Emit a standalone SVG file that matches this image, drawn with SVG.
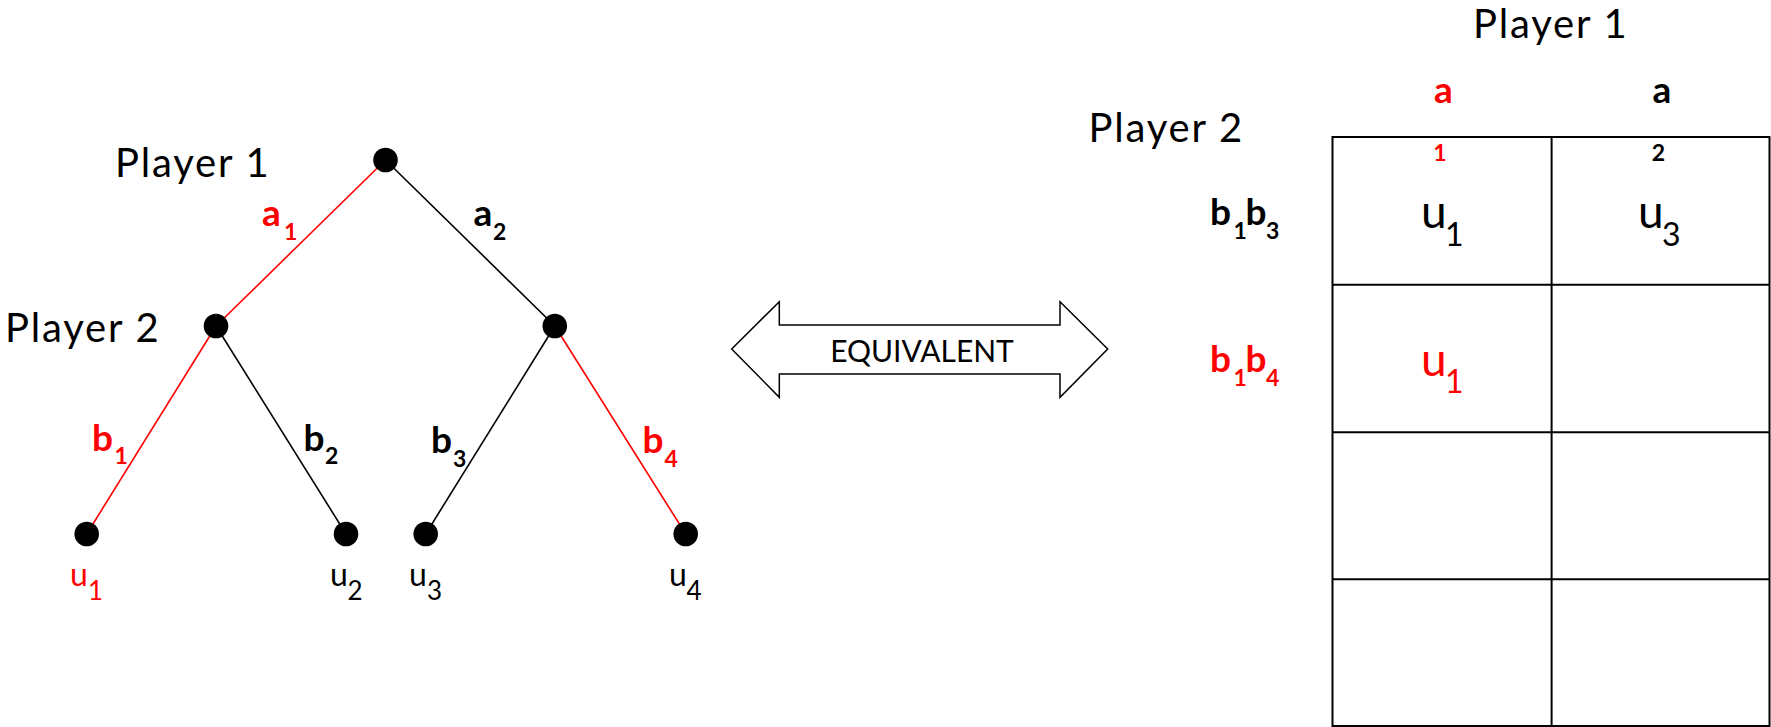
<svg xmlns="http://www.w3.org/2000/svg" width="1771" height="727" viewBox="0 0 1771 727">
<style>
text { font-family: Lato, "Open Sans", "Liberation Sans", sans-serif; fill: #000; }
.red { fill: #ff0000; }
.player { font-size: 40px; letter-spacing: 1.8px; }
.lbl { font-size: 37px; font-weight: bold; }
.lsub { font-size: 23px; font-weight: bold; }
.u { font-size: 32px; }
.usub { font-size: 26px; }
.tu { font-size: 46px; }
.tusub { font-size: 32px; }
.edge { stroke: #000; stroke-width: 1.6; fill: none; }
.edge.hot { stroke: #ff0000; }
.node { fill: #000; }
.grid { stroke: #000; stroke-width: 2; fill: none; }
.arrow { stroke: #000; stroke-width: 1.5; fill: #fff; stroke-linejoin: miter; }
</style>

<g id="connectors">
  <line class="edge hot" x1="385.5" y1="160" x2="216" y2="326"/>
  <line class="edge" x1="385.5" y1="160" x2="554.8" y2="326"/>
  <line class="edge hot" x1="216" y1="326" x2="86.7" y2="534"/>
  <line class="edge" x1="216" y1="326" x2="346" y2="534"/>
  <line class="edge" x1="554.8" y1="326" x2="425.7" y2="534"/>
  <line class="edge hot" x1="554.8" y1="326" x2="685.7" y2="534"/>
</g>

<g id="edge-labels">
  <text class="lbl red" x="262" y="225.7">a</text><text class="lsub red" x="284" y="240">1</text>
  <text class="lbl" x="473.5" y="225.7">a</text><text class="lsub" x="493" y="240">2</text>
  <text class="lbl red" x="92" y="450.7">b</text><text class="lsub red" x="114.5" y="463.5">1</text>
  <text class="lbl" x="303.5" y="450.7">b</text><text class="lsub" x="325" y="464">2</text>
  <text class="lbl" x="431" y="453.3">b</text><text class="lsub" x="453" y="467.3">3</text>
  <text class="lbl red" x="642.5" y="453.3">b</text><text class="lsub red" x="664.5" y="467.3">4</text>
</g>

<g id="node-root">
  <circle class="node" cx="385.5" cy="160" r="12.3"/>
  <text class="player" x="115" y="176.7">Player 1</text>
</g>
<g id="node-p2-left">
  <circle class="node" cx="216" cy="326" r="12.3"/>
  <text class="player" x="5" y="341.7">Player 2</text>
</g>
<g id="node-p2-right">
  <circle class="node" cx="554.8" cy="326" r="12.3"/>
</g>
<g id="leaf-u1">
  <circle class="node" cx="86.7" cy="534" r="12.3"/>
  <text class="u red" x="70" y="585.7">u</text><text class="usub red" x="88" y="600">1</text>
</g>
<g id="leaf-u2">
  <circle class="node" cx="346" cy="534" r="12.3"/>
  <text class="u" x="330" y="585.7">u</text><text class="usub" x="347.5" y="600">2</text>
</g>
<g id="leaf-u3">
  <circle class="node" cx="425.7" cy="534" r="12.3"/>
  <text class="u" x="409" y="585.7">u</text><text class="usub" x="427" y="600">3</text>
</g>
<g id="leaf-u4">
  <circle class="node" cx="685.7" cy="534" r="12.3"/>
  <text class="u" x="669" y="585.7">u</text><text class="usub" x="686.5" y="600">4</text>
</g>

<g id="equivalent-arrow">
  <path class="arrow" d="M731.7,349 L779.3,301.7 L779.3,325 L1060,325 L1060,301.7 L1107.7,349 L1060,397.3 L1060,374 L779.3,374 L779.3,397.3 Z"/>
  <text x="922" y="362.3" text-anchor="middle" style="font-size:30px">EQUIVALENT</text>
</g>

<g id="matrix">
  <text class="player" x="1473" y="38.3">Player 1</text>
  <text class="player" x="1088.5" y="141.7">Player 2</text>
  <text class="lbl red" x="1443.5" y="103.3" text-anchor="middle">a</text>
  <text class="lbl" x="1662" y="103.3" text-anchor="middle">a</text>
  <text class="lsub red" x="1440" y="160.7" text-anchor="middle">1</text>
  <text class="lsub" x="1658.5" y="160.7" text-anchor="middle">2</text>
  <rect class="grid" x="1332.5" y="137" width="437" height="589"/>
  <line class="grid" x1="1551.6" y1="137" x2="1551.6" y2="726"/>
  <line class="grid" x1="1332.5" y1="284.7" x2="1769.5" y2="284.7"/>
  <line class="grid" x1="1332.5" y1="432.3" x2="1769.5" y2="432.3"/>
  <line class="grid" x1="1332.5" y1="579.3" x2="1769.5" y2="579.3"/>
  <text class="lbl" x="1210" y="225">b<tspan class="lsub" x="1233.5" y="239">1</tspan><tspan x="1245.5" y="225">b</tspan><tspan class="lsub" x="1266" y="239">3</tspan></text>
  <text class="lbl red" x="1210" y="371.7">b<tspan class="lsub" x="1233.5" y="386">1</tspan><tspan x="1245.5" y="371.7">b</tspan><tspan class="lsub" x="1266" y="386">4</tspan></text>
  <text class="tu" x="1421" y="228.3">u</text><text class="tusub" x="1445" y="246">1</text>
  <text class="tu" x="1638" y="228.3">u</text><text class="tusub" x="1662" y="246">3</text>
  <text class="tu red" x="1421" y="375.6">u</text><text class="tusub red" x="1445" y="393">1</text>
</g>
</svg>
